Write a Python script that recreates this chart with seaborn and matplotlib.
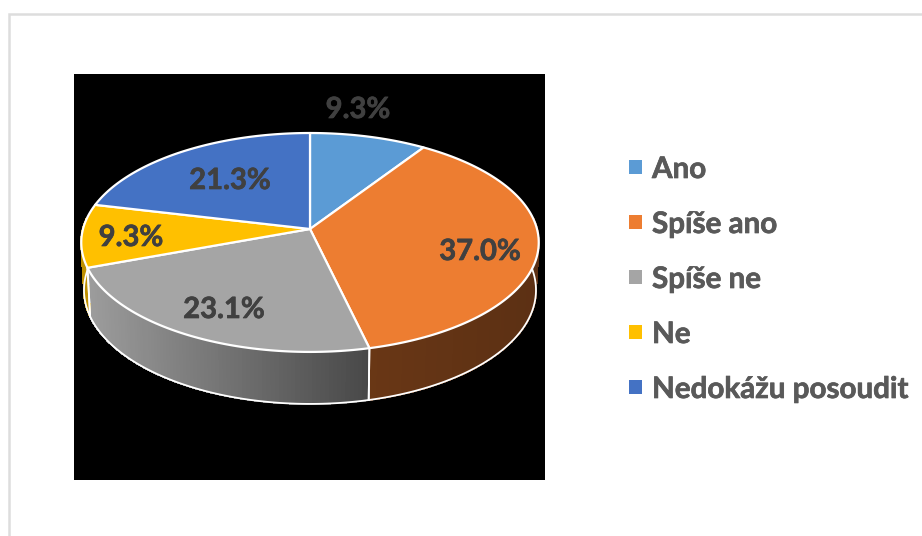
"""3D-style pie chart of survey answers, drawn in pixel coordinates."""
import matplotlib
matplotlib.use("Agg")
import matplotlib.patheffects as pe
import matplotlib.pyplot as plt
import numpy as np
import pandas as pd
import seaborn as sns
from matplotlib.colors import to_rgb
from matplotlib.patches import Polygon, Rectangle

categories = ["Ano", "Spíše ano", "Spíše ne", "Ne", "Nedokážu posoudit"]
shares = [9.3, 37.0, 23.1, 9.3, 21.3]
colors = ["#5B9BD5", "#ED7D31", "#A5A5A5", "#FFC000", "#4472C4"]

# where each percentage sits on the canvas
LABEL_XY = [(358, 110), (480, 252), (224, 310), (131, 238), (230, 181)]

# projection of the tilted disc, in pixels
CX, CY = 310, 229
RX, RY, PERSP = 227, 107.8, 0.123
INK = "#404040"
FONT_PT = 21
LEGEND_PT = 21.3

sns.set_theme(style="white")
plt.rcParams["font.family"] = ["Lato", "DejaVu Sans"]


def project(theta):
    # theta in radians, clockwise from twelve o'clock
    u, v = np.sin(theta), np.cos(theta)
    den = 1 + PERSP * v
    return CX + RX * u / den, CY - RY * v / den


def project_base(theta):
    x, y = project(theta)
    return CX + (x - CX) * 0.988, y + 47 - 5 * np.cos(theta)


def wall_color(i, x):
    if i == 2:  # grey side fades towards the front
        t = np.clip((x - 88) / (370 - 88), 0, 1)
        return tuple(np.array(to_rgb("#9C9C9C")) * (1 - t) + np.array(to_rgb("#484848")) * t)
    if i == 1:
        t = np.clip((x - 370) / (538 - 370), 0, 1)
        return tuple(np.array(to_rgb("#693715")) * (1 - t) + np.array(to_rgb("#5C3014")) * t)
    return "#BF9000"


def bold(color):
    # the source font renders heavier than Lato bold
    return [pe.withStroke(linewidth=0.5, foreground=color)]


fig = plt.figure(figsize=(9.22, 5.36), dpi=100, facecolor="white")
ax = fig.add_axes([0, 0, 1, 1])
ax.set_xlim(0, 922)
ax.set_ylim(536, 0)
ax.axis("off")

ax.add_patch(Rectangle((9, 14), 950, 560, facecolor="white", edgecolor="#DDDDDD", lw=1.8))
ax.add_patch(Rectangle((74, 74), 471, 406, facecolor="black", edgecolor="none"))

edges = np.radians(np.concatenate([[0], np.cumsum(shares)]) * 3.6)

# side wall first, the top face then covers whatever lies behind it
for i in range(len(shares)):
    angles = np.linspace(edges[i], edges[i + 1], 90)
    angles = angles[np.cos(angles) < 0.1]
    if len(angles) < 2:
        continue
    xt, yt = project(angles)
    xb, yb = project_base(angles)
    for j in range(len(angles) - 1):
        quad = [(xt[j], yt[j]), (xt[j + 1], yt[j + 1]), (xb[j + 1], yb[j + 1]), (xb[j], yb[j])]
        col = wall_color(i, xt[j])
        ax.add_patch(Polygon(quad, facecolor=col, edgecolor=col, lw=0.8, antialiased=False, zorder=2))
    ax.plot(xb, yb, color="white", lw=1.3, zorder=3, solid_capstyle="round")
    for k in (0, -1):
        if np.cos(angles[k]) < -0.05 or i == 3:
            ax.plot([xt[k], xb[k]], [yt[k], yb[k]], color="white", lw=1.3, zorder=3)

# top face
for i, col in enumerate(colors):
    angles = np.linspace(edges[i], edges[i + 1], 120)
    xt, yt = project(angles)
    pts = np.column_stack([np.r_[CX, xt], np.r_[CY, yt]])
    ax.add_patch(Polygon(pts, closed=True, facecolor=col, edgecolor="white", lw=1.6,
                         joinstyle="round", zorder=4))

for (x, y), share in zip(LABEL_XY, shares):
    ax.text(x, y, f"{share:.1f}%", ha="center", va="center", fontsize=FONT_PT,
            fontweight="bold", color=INK, zorder=5, path_effects=bold(INK))

# legend swatches and text
legend_df = pd.DataFrame({"answer": categories,
                          "x": [635.5] * len(categories),
                          "y": 167 + 55 * np.arange(len(categories), dtype=float)})
sns.scatterplot(data=legend_df, x="x", y="y", hue="answer", palette=colors, hue_order=categories,
                marker="s", s=88, linewidth=0, legend=False, ax=ax, zorder=5)
ax.axis("off")
ax.set_xlim(0, 922)
ax.set_ylim(536, 0)
for _, row in legend_df.iterrows():
    ax.text(652, row["y"] + 2, row["answer"], ha="left", va="center", fontsize=LEGEND_PT,
            fontweight="bold", color="#595959", path_effects=bold("#595959"))

fig.savefig("out.png", dpi=100)
